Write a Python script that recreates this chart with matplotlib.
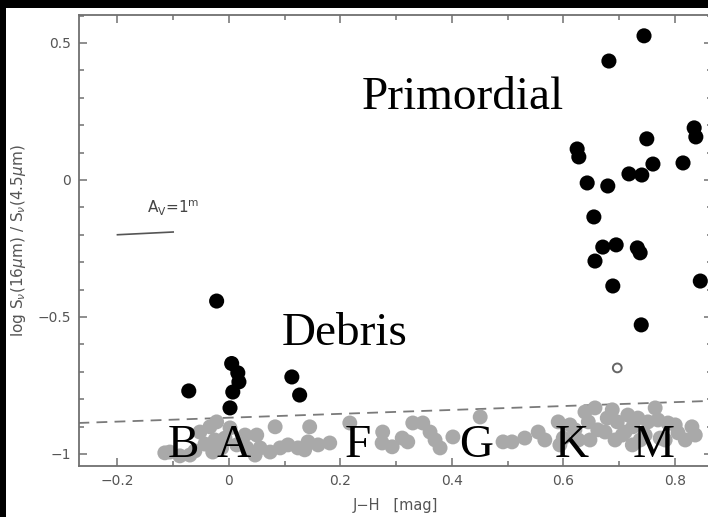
import numpy as np
import matplotlib.pyplot as plt
from matplotlib.patches import Rectangle
from matplotlib.ticker import MultipleLocator

# disc sources: debris (low excess) and primordial (large excess)
debris_jh = [-0.022, -0.072, 0.005, 0.016, 0.018, 0.007, 0.002, 0.113, 0.127]
debris_ratio = [-0.442, -0.770, -0.670, -0.704, -0.737, -0.774, -0.832, -0.719, -0.785]

prim_jh = [0.745, 0.682, 0.625, 0.628, 0.643, 0.680, 0.718, 0.741, 0.750, 0.761,
           0.815, 0.835, 0.838, 0.655, 0.671, 0.695, 0.657, 0.733, 0.738, 0.689,
           0.846, 0.740]
prim_ratio = [0.526, 0.434, 0.113, 0.084, -0.011, -0.022, 0.022, 0.018, 0.150, 0.058,
              0.062, 0.190, 0.157, -0.135, -0.245, -0.237, -0.296, -0.248, -0.266, -0.387,
              -0.369, -0.529]

# uncertain source (open symbol)
open_jh = [0.697]
open_ratio = [-0.686]

# photospheric sources (no excess)
phot_jh = [-0.115, -0.088, -0.061, -0.043, -0.034, -0.022, -0.025, -0.013, 0.002, 0.014,
           0.032, 0.050, 0.056, 0.074, 0.083, 0.092, 0.106, 0.124, 0.136, 0.142,
           0.145, 0.160, 0.181, 0.217, 0.276, 0.275, 0.293, 0.311, 0.321, 0.330,
           0.348, 0.361, 0.370, 0.379, 0.402, 0.451, 0.492, 0.508, 0.531, 0.555,
           0.567, 0.591, 0.600, 0.621, 0.639, 0.657, 0.645, 0.648, 0.675, 0.679,
           0.693, 0.697, 0.706, 0.711, 0.724, 0.725, 0.734, 0.747, 0.752, 0.765,
           0.770, 0.774, 0.788, 0.806, 0.831, 0.837,
           -0.052, -0.007, 0.029, -0.070, -0.106, -0.029, 0.047, 0.594, 0.612, 0.627,
           0.662, 0.738, 0.783, 0.801, 0.819, 0.688, 0.716]
phot_ratio = [-0.996, -1.007, -0.989, -0.964, -0.901, -0.883, -0.949, -0.978, -0.905, -0.967,
              -0.978, -0.931, -0.978, -0.993, -0.901, -0.978, -0.967, -0.978, -0.985, -0.956,
              -0.901, -0.967, -0.960, -0.887, -0.920, -0.960, -0.974, -0.942, -0.956, -0.887,
              -0.887, -0.920, -0.949, -0.978, -0.938, -0.865, -0.956, -0.956, -0.942, -0.920,
              -0.949, -0.883, -0.942, -0.912, -0.847, -0.832, -0.883, -0.949, -0.920, -0.869,
              -0.949, -0.883, -0.931, -0.920, -0.967, -0.901, -0.869, -0.931, -0.883, -0.832,
              -0.876, -0.942, -0.887, -0.923, -0.901, -0.931,
              -0.920, -0.942, -0.931, -1.004, -0.993, -0.993, -1.004, -0.967, -0.894, -0.949,
              -0.912, -0.949, -0.949, -0.894, -0.949, -0.839, -0.858]

# excess threshold
cut_jh = [-0.27, 0.87]
cut_ratio = [-0.887, -0.806]

# reddening vector
av_jh = [-0.2, -0.1]
av_ratio = [-0.20, -0.19]

# spectral types along J-H
sptypes = ['B', 'A', 'F', 'G', 'K', 'M']
sptype_jh = [-0.081, 0.009, 0.232, 0.443, 0.616, 0.763]

fig = plt.figure(figsize=(7.08, 5.17), dpi=100, facecolor='black')
fig.patches.append(Rectangle((6 / 708, 0), 1, 1 - 8 / 517, transform=fig.transFigure,
                             facecolor='white', edgecolor='none', zorder=-10))
ax = fig.add_axes([79 / 708, 51 / 517, 633 / 708, 451 / 517])

gc = '#707070'
ax.plot(cut_jh, cut_ratio, linestyle=(0, (6, 4)), color='#7a7a7a', lw=1.3, zorder=1)
ax.scatter(phot_jh, phot_ratio, s=115, color='#a9a9a9', edgecolors='none', zorder=2)
ax.scatter(debris_jh + prim_jh, debris_ratio + prim_ratio, s=118, color='black',
           edgecolors='none', zorder=3)
ax.scatter(open_jh, open_ratio, s=40, facecolors='none', edgecolors='#666666',
           linewidths=1.4, zorder=3)

ax.plot(av_jh, av_ratio, color='#555555', lw=1.2)
ax.text(-0.147, -0.120, r'A$_{\rm V}$=1$^{\rm m}$', fontsize=11, color='#444444',
        ha='left', va='baseline')

serif = 'Liberation Serif'
ax.text(0.239, 0.259, 'Primordial', fontsize=34, family=serif, ha='left', va='baseline', zorder=5)
ax.text(0.095, -0.602, 'Debris', fontsize=34, family=serif, ha='left', va='baseline', zorder=5)
for lab, xv in zip(sptypes, sptype_jh):
    ax.text(xv, -1.011, lab, fontsize=34, family=serif, ha='center', va='baseline', zorder=5)

ax.set_xlim(-0.269, 0.867)
ax.set_ylim(-1.044, 0.602)
ax.xaxis.set_major_locator(MultipleLocator(0.2))
ax.xaxis.set_minor_locator(MultipleLocator(0.1))
ax.yaxis.set_major_locator(MultipleLocator(0.5))
ax.yaxis.set_minor_locator(MultipleLocator(0.1))
ax.set_xticks([-0.2, 0, 0.2, 0.4, 0.6, 0.8])
ax.set_xticklabels(['\u22120.2', '0', '0.2', '0.4', '0.6', '0.8'])
ax.set_yticks([-1, -0.5, 0, 0.5])
ax.set_yticklabels(['\u22121', '\u22120.5', '0', '0.5'])
ax.tick_params(which='both', direction='in', top=True, right=True, color=gc,
               labelsize=10, labelcolor='#555555', width=1.1)
ax.tick_params(which='major', length=6, pad=6)
ax.tick_params(which='minor', length=3.5)
for sp in ax.spines.values():
    sp.set_color(gc)
    sp.set_linewidth(1.3)

ax.set_xlabel('J\u2212H   [mag]', fontsize=10.5, color='#555555')
ax.xaxis.set_label_coords(0.5, -0.072)
ax.set_ylabel(r'log S$_\nu$(16$\mu$m) / S$_\nu$(4.5$\mu$m)', fontsize=11, color='#555555')
ax.yaxis.set_label_coords(-0.08, 0.5)

fig.savefig('out.png', dpi=100, facecolor=fig.get_facecolor())
